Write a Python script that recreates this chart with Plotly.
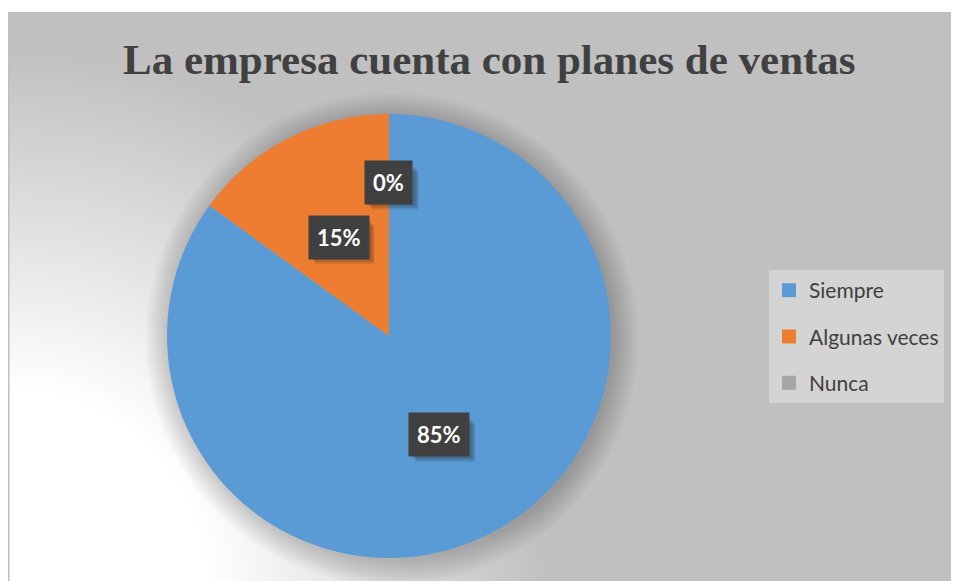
"""
Pie chart: La empresa cuenta con planes de ventas
"""
import base64
import math
import plotly.graph_objects as go

# data
categories = ['Siempre', 'Algunas veces', 'Nunca']
values = [85, 15, 0]
colors = ['#5B9BD5', '#ED7D31', '#A5A5A5']
title_text = 'La empresa cuenta con planes de ventas'

W, H = 959, 581
OFF = 8  # page body margin, subtract from screen pixels


def px(x):
    return (x - OFF) / W


def py(y):
    return 1 - (y - OFF) / H


# pie geometry in screen pixels
CX, CY, R = 389, 336, 222

# background: radial gradient from the bottom-left corner (white -> gray)
BW, BH = W - 8, H - 4
bg_svg = (
    f'<svg xmlns="http://www.w3.org/2000/svg" width="{BW}" height="{BH}" viewBox="0 0 {BW} {BH}">'
    f'<defs><radialGradient id="g" gradientUnits="userSpaceOnUse" cx="0" cy="{BH}" r="600">'
    '<stop offset="0" stop-color="#ffffff"/><stop offset="0.33" stop-color="#ffffff"/>'
    '<stop offset="0.9" stop-color="#c0c0c0"/><stop offset="1" stop-color="#c0c0c0"/>'
    '</radialGradient></defs>'
    f'<rect width="{BW}" height="{BH}" fill="url(#g)"/>'
    f'<line x1="0.75" y1="0" x2="0.75" y2="{BH}" stroke="#bfbfbf" stroke-width="1.5"/>'
    '</svg>'
)
bg_uri = 'data:image/svg+xml;base64,' + base64.b64encode(bg_svg.encode()).decode()

fig = go.Figure()

fig.add_trace(go.Pie(
    labels=categories,
    values=values,
    sort=False,
    direction='clockwise',
    rotation=0,
    marker=dict(colors=colors, line=dict(width=0)),
    textinfo='none',
    hoverinfo='label+percent',
    showlegend=False,
    domain=dict(x=[px(CX - R), px(CX + R)], y=[py(CY + R), py(CY - R)]),
))

# legend entries via dummy traces so the spacing can match
for name, col in zip(categories, colors):
    fig.add_trace(go.Scatter(
        x=[None], y=[None], mode='markers', name=name,
        legendgroup=name,
        marker=dict(symbol='square', size=14, color=col),
    ))

shapes = []
# soft shadow around the pie
for i in range(10):
    rr = R + 1 + i * 2.6
    shapes.append(dict(
        type='circle', xref='paper', yref='paper', layer='below',
        x0=px(CX + 3 - rr), x1=px(CX + 3 + rr),
        y0=py(CY + 3 + rr), y1=py(CY + 3 - rr),
        fillcolor='rgba(0,0,0,0.018)', line=dict(width=0),
    ))

# data labels (dark boxes) placed from slice angles
annotations = []
total = sum(values)
cum = 0
for v in values:
    mid = (cum + v / 2) / total * 2 * math.pi
    cum += v
    frac = 0.5 if v > 0 else 0.69
    lx = CX + math.sin(mid) * R * frac
    ly = CY - math.cos(mid) * R * frac
    label = f'{round(v / total * 100)}%'
    bw, bh = len(label) * 12.5 + 22, 38
    # blurred shadow behind the box
    for dx, dy, a in [(6, 8, 0.12), (5, 6, 0.15), (3, 4, 0.15)]:
        shapes.append(dict(
            type='rect', xref='paper', yref='paper',
            xsizemode='pixel', ysizemode='pixel',
            xanchor=px(lx + dx), yanchor=py(ly + dy),
            x0=-bw / 2, x1=bw / 2, y0=-bh / 2, y1=bh / 2,
            fillcolor=f'rgba(30,30,30,{a})', line=dict(width=0),
        ))
    annotations.append(dict(
        x=px(lx), y=py(ly), xref='paper', yref='paper',
        xanchor='center', yanchor='middle',
        text=f'<b>{label}</b>', showarrow=False,
        font=dict(family='Lato', size=22, color='#ffffff'),
        bgcolor='#404040', borderpad=8,
    ))

annotations.append(dict(
    x=px(489), y=py(60), xref='paper', yref='paper', showarrow=False,
    xanchor='center', yanchor='middle',
    text=f'<b>{title_text}</b>',
    font=dict(family='Liberation Serif', size=43, color='#404040'),
))

fig.update_layout(
    width=W, height=H,
    margin=dict(l=0, r=0, t=0, b=0),
    paper_bgcolor='#ffffff',
    plot_bgcolor='rgba(0,0,0,0)',
    xaxis=dict(visible=False),
    yaxis=dict(visible=False),
    images=[dict(
        source=bg_uri, xref='paper', yref='paper',
        x=px(8), y=py(12), sizex=BW / W, sizey=BH / H,
        xanchor='left', yanchor='top', sizing='stretch', layer='below',
    )],
    shapes=shapes,
    annotations=annotations,
    legend=dict(
        x=px(769), y=py(270), xanchor='left', yanchor='top',
        bgcolor='#d4d4d4', borderwidth=0,
        font=dict(family='Lato', size=21, color='#404040'),
        tracegroupgap=16, itemclick=False,
    ),
    showlegend=True,
)

fig.write_html("out.html")
